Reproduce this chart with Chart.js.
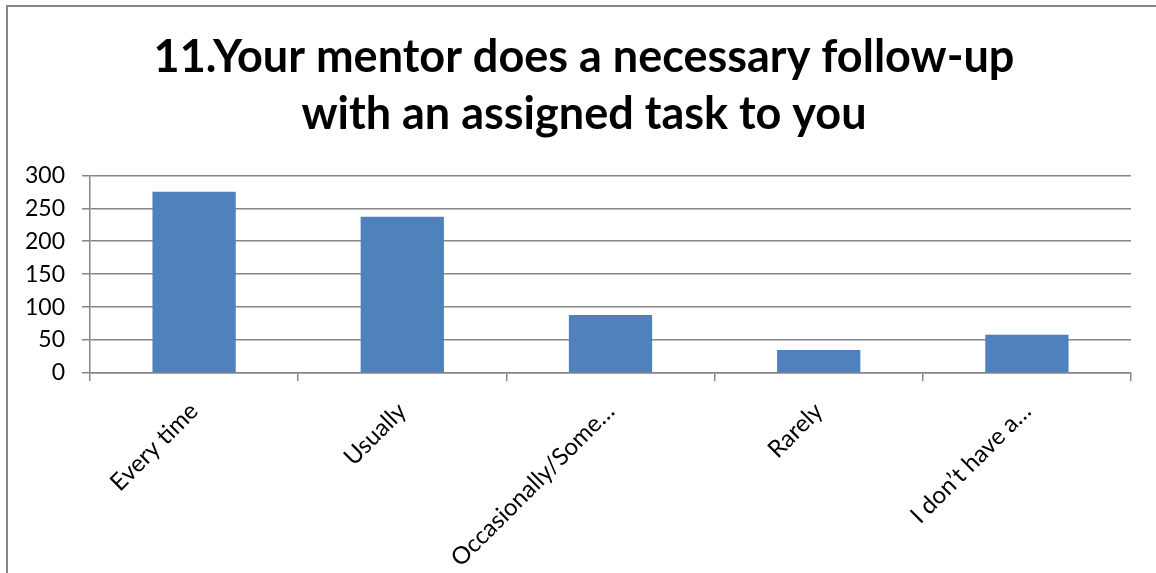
<!DOCTYPE html>
<html>
<head>
<meta charset="utf-8">
<script src="https://cdn.jsdelivr.net/npm/chart.js@4"></script>
<style>
  html, body { margin: 0; padding: 0; background: #fff; overflow: hidden; }
  #wrap {
    position: absolute; left: 6px; top: 5px;
    width: 1152px; height: 580px;
    border: 2px solid #868686;
    background: #fff;
  }
</style>
</head>
<body>
<div id="wrap"><canvas id="chart"></canvas></div>
<script>
(function() {
    'use strict';

    // data
    const categories = ['Every time', 'Usually', 'Occasionally/Some\u2026', 'Rarely', 'I don\u2019t have a\u2026'];
    const counts = [275, 237, 88, 35, 58];
    const yTicks = [0, 50, 100, 150, 200, 250, 300];
    const titleLines = ['11.Your mentor does a necessary follow-up', 'with an assigned task to you'];

    const gridColor = '#868686';
    const font = 'Lato';

    const ctx = document.getElementById('chart');
    new Chart(ctx, {
        type: 'bar',
        data: {
            labels: categories,
            datasets: [{
                data: counts,
                backgroundColor: '#4F81BD',
                borderWidth: 0,
                barPercentage: 0.4,
                categoryPercentage: 1
            }]
        },
        options: {
            responsive: true,
            maintainAspectRatio: false,
            animation: false,
            layout: { padding: 0 },
            plugins: {
                legend: { display: false },
                tooltip: { enabled: false },
                title: {
                    display: true,
                    text: titleLines,
                    color: '#000',
                    font: { family: font, size: 45, weight: 'bold', lineHeight: 1.27 },
                    padding: { top: 22, bottom: 32 }
                }
            },
            scales: {
                y: {
                    min: 0,
                    max: 300,
                    afterBuildTicks: (scale) => {
                        scale.ticks = yTicks.map(v => ({ value: v }));
                    },
                    afterFit: (scale) => { scale.width = 82; },
                    ticks: {
                        color: '#000',
                        font: { family: font, size: 23 },
                        padding: 17
                    },
                    grid: {
                        color: gridColor,
                        lineWidth: 1.5,
                        tickLength: 8
                    },
                    border: { color: gridColor, width: 1.5 }
                },
                // empty spacer on the right so the title stays centred on the whole box
                yRight: {
                    position: 'right',
                    min: 0,
                    max: 300,
                    afterFit: (scale) => { scale.width = 29; },
                    ticks: { display: false },
                    grid: { display: false },
                    border: { display: false }
                },
                x: {
                    afterFit: (scale) => { scale.height = 214; },
                    ticks: {
                        color: '#000',
                        font: { family: font, size: 24 },
                        minRotation: 45,
                        maxRotation: 45,
                        autoSkip: false,
                        padding: 16
                    },
                    grid: {
                        offset: true,
                        drawOnChartArea: false,
                        drawTicks: true,
                        tickLength: 8,
                        color: gridColor,
                        lineWidth: 1.5
                    },
                    border: { color: gridColor, width: 1.5 }
                }
            }
        }
    });
})();
</script>
</body>
</html>
